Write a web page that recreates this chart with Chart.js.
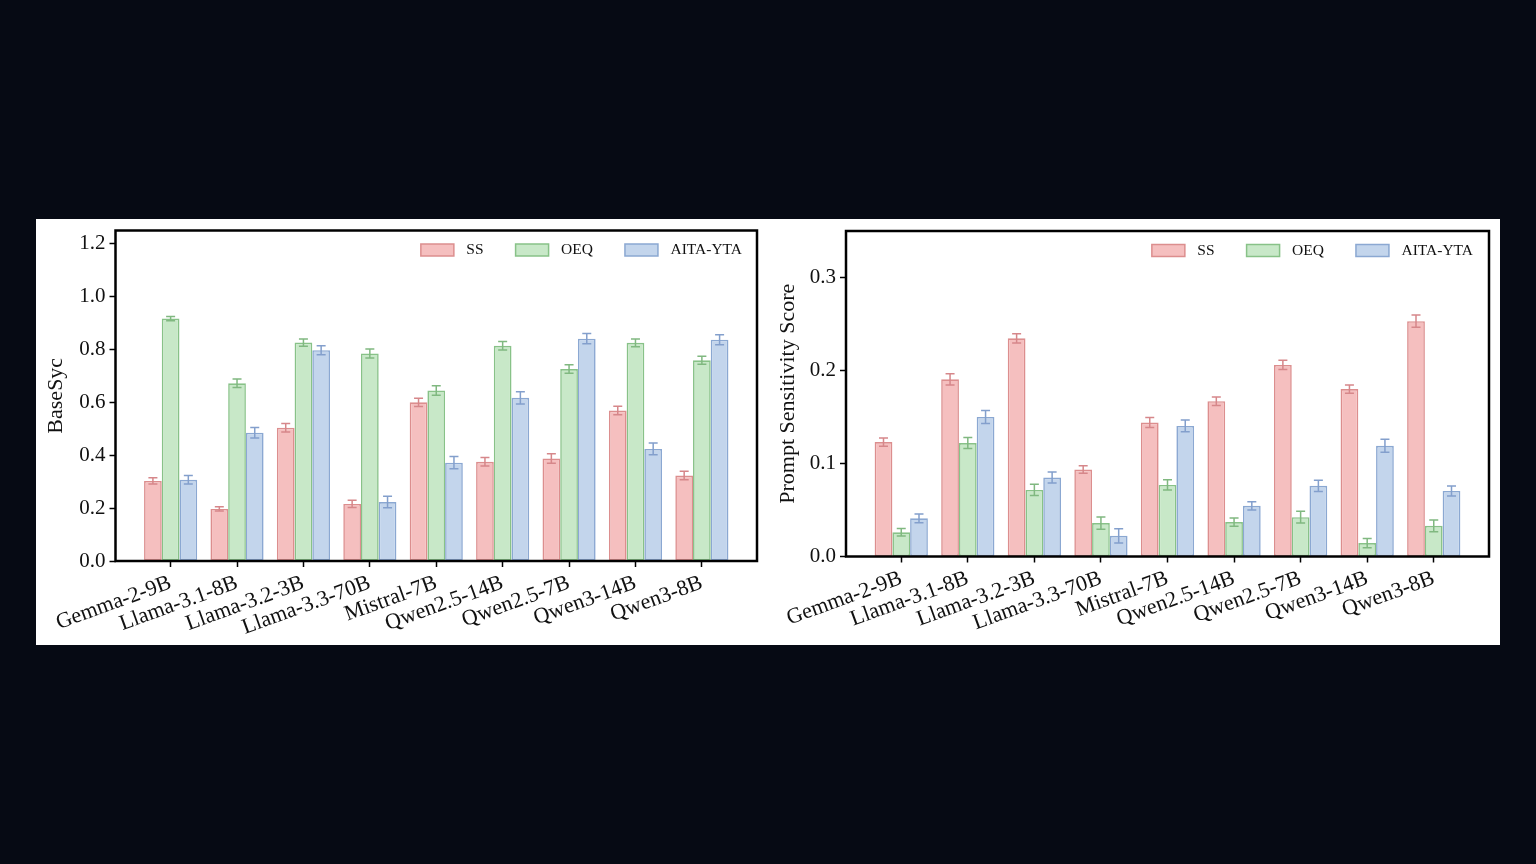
<!DOCTYPE html>
<html>
<head>
<meta charset="utf-8">
<script src="https://cdn.jsdelivr.net/npm/chart.js@4.4.1/dist/chart.umd.min.js"></script>
<style>
  html, body { margin: 0; padding: 0; background: #060a14; width: 1536px; height: 864px; overflow: hidden; }
  #panel { position: absolute; left: 36px; top: 219px; width: 1464px; height: 426px; background: #fff; }
  .cell { position: absolute; top: 0; width: 732px; height: 426px; }
</style>
</head>
<body>
<div id="panel">
  <div class="cell" style="left:0"><canvas id="baseChart"></canvas></div>
  <div class="cell" style="left:732px"><canvas id="promptChart"></canvas></div>
</div>
<script>
// models on the x axis
const models = ["Gemma-2-9B", "Llama-3.1-8B", "Llama-3.2-3B", "Llama-3.3-70B", "Mistral-7B",
                "Qwen2.5-14B", "Qwen2.5-7B", "Qwen3-14B", "Qwen3-8B"];
const seriesNames = ["SS", "OEQ", "AITA-YTA"];

// left panel: BaseSyc
const baseSS       = [0.303, 0.197, 0.504, 0.216, 0.600, 0.375, 0.388, 0.569, 0.323];
const baseSSErr    = [0.012, 0.008, 0.016, 0.014, 0.016, 0.016, 0.018, 0.016, 0.016];
const baseOEQ      = [0.917, 0.672, 0.826, 0.785, 0.645, 0.814, 0.726, 0.825, 0.759];
const baseOEQErr   = [0.008, 0.016, 0.014, 0.017, 0.018, 0.016, 0.016, 0.015, 0.015];
const baseAITA     = [0.307, 0.485, 0.797, 0.223, 0.372, 0.617, 0.841, 0.424, 0.837];
const baseAITAErr  = [0.016, 0.020, 0.017, 0.022, 0.023, 0.023, 0.019, 0.022, 0.019];

// right panel: Prompt Sensitivity Score
const promptSS      = [0.123, 0.1905, 0.2346, 0.0935, 0.144, 0.167, 0.206, 0.180, 0.253];
const promptSSErr   = [0.0045, 0.006, 0.005, 0.004, 0.0054, 0.0045, 0.005, 0.0045, 0.0066];
const promptOEQ     = [0.026, 0.122, 0.0716, 0.0359, 0.077, 0.037, 0.0423, 0.0144, 0.033];
const promptOEQErr  = [0.004, 0.006, 0.006, 0.0065, 0.0054, 0.0045, 0.0063, 0.005, 0.0063];
const promptAITA    = [0.041, 0.150, 0.0849, 0.0222, 0.1404, 0.0545, 0.076, 0.119, 0.0705];
const promptAITAErr = [0.0047, 0.007, 0.006, 0.0077, 0.0063, 0.0045, 0.006, 0.007, 0.0054];

const fillColors = ["#f5bfbf", "#c8e8c8", "#c3d5ec"];
const edgeColors = ["#dc8e8e", "#88c288", "#8ba8d2"];
const errColors  = ["#d6878a", "#80b880", "#839fcc"];
const serif = "'Liberation Serif', 'Times New Roman', serif";

const errorBars = {
    id: "errorBars",
    afterDatasetsDraw(chart) {
        const ctx = chart.ctx;
        const yScale = chart.scales.y;
        ctx.save();
        ctx.lineWidth = 1.5;
        chart.data.datasets.forEach((ds, d) => {
            const meta = chart.getDatasetMeta(d);
            ctx.strokeStyle = errColors[d];
            meta.data.forEach((bar, i) => {
                const v = ds.data[i].y;
                const e = ds.errors[i];
                const yTop = yScale.getPixelForValue(v + e);
                const yBot = yScale.getPixelForValue(v - e);
                const cap = 4.5;
                ctx.beginPath();
                ctx.moveTo(bar.x, yTop); ctx.lineTo(bar.x, yBot);
                ctx.moveTo(bar.x - cap, yTop); ctx.lineTo(bar.x + cap, yTop);
                ctx.moveTo(bar.x - cap, yBot); ctx.lineTo(bar.x + cap, yBot);
                ctx.stroke();
            });
        });
        ctx.restore();
    }
};

const frame = {
    id: "frame",
    afterDraw(chart) {
        const { ctx, chartArea: a } = chart;
        ctx.save();
        ctx.strokeStyle = "#000";
        ctx.lineWidth = 2.5;
        ctx.strokeRect(a.left, a.top, a.right - a.left, a.bottom - a.top);
        ctx.restore();
    }
};

// legend inside the plot, top right, like the original
const insideLegend = {
    id: "insideLegend",
    afterDraw(chart, args, opts) {
        const { ctx, chartArea } = chart;
        ctx.save();
        ctx.font = "15.5px " + serif;
        ctx.textBaseline = "middle";
        let x = chartArea.right - opts.right;
        const y = chartArea.top + opts.top;
        for (let i = chart.data.datasets.length - 1; i >= 0; i--) {
            const ds = chart.data.datasets[i];
            const w = ctx.measureText(ds.label).width;
            x -= w;
            ctx.fillStyle = "#111";
            ctx.fillText(ds.label, x, y);
            x -= 12.5 + 33;
            ctx.fillStyle = ds.backgroundColor;
            ctx.fillRect(x, y - 6, 33, 12);
            ctx.strokeStyle = ds.borderColor;
            ctx.lineWidth = 1.5;
            ctx.strokeRect(x, y - 6, 33, 12);
            x -= 32;
        }
        ctx.restore();
    }
};

function buildChart(canvasId, values, errors, yMax, yStep, yTitle, pad) {
    const datasets = seriesNames.map((name, s) => ({
        label: name,
        data: models.map((m, i) => ({ x: i, y: values[s][i] })),
        errors: errors[s],
        backgroundColor: fillColors[s],
        borderColor: edgeColors[s],
        borderWidth: 1.6,
        borderSkipped: false,
        categoryPercentage: 0.8,
        barPercentage: 1.0
    }));

    return new Chart(document.getElementById(canvasId), {
        type: "bar",
        data: { datasets },
        options: {
            responsive: true,
            maintainAspectRatio: false,
            animation: false,
            layout: { padding: { left: 0, right: pad.right, top: pad.top, bottom: 0 } },
            plugins: {
                legend: { display: false },
                tooltip: { enabled: false },
                insideLegend: { right: pad.legendRight, top: 19.5 }
            },
            scales: {
                x: {
                    type: "linear",
                    min: -0.83,
                    max: models.length - 1 + 0.83,
                    offset: false,
                    grid: { offset: false, drawOnChartArea: false, tickLength: 6, tickWidth: 1.5, tickColor: "#000" },
                    border: { display: false },
                    afterBuildTicks: s => { s.ticks = models.map((m, i) => ({ value: i })); },
                    afterFit: s => { s.height = pad.bottom; },
                    ticks: {
                        autoSkip: false,
                        stepSize: 1,
                        minRotation: 20,
                        maxRotation: 20,
                        padding: 3,
                        color: "#111",
                        font: { family: serif, size: 22 },
                        callback: v => models[v]
                    }
                },
                y: {
                    min: 0,
                    max: yMax,
                    grid: { drawOnChartArea: false, tickLength: 6, tickWidth: 1.5, tickColor: "#000" },
                    border: { display: false },
                    afterFit: s => { s.width = pad.left; s.paddingTop = 0; s.paddingBottom = 0; },
                    ticks: {
                        stepSize: yStep,
                        includeBounds: false,
                        padding: 4,
                        color: "#111",
                        font: { family: serif, size: 21 },
                        callback: v => v.toFixed(1)
                    },
                    title: {
                        display: true,
                        text: yTitle,
                        color: "#111",
                        font: { family: serif, size: 22, lineHeight: 1.2 },
                        padding: { top: 7, bottom: 0 }
                    }
                }
            }
        },
        plugins: [errorBars, frame, insideLegend]
    });
}

buildChart("baseChart",
    [baseSS, baseOEQ, baseAITA], [baseSSErr, baseOEQErr, baseAITAErr],
    1.25, 0.2, "BaseSyc",
    { left: 79.5, right: 11, top: 11.5, bottom: 84, legendRight: 15 });

buildChart("promptChart",
    [promptSS, promptOEQ, promptAITA], [promptSSErr, promptOEQErr, promptAITAErr],
    0.35, 0.1, "Prompt Sensitivity Score",
    { left: 78, right: 11, top: 12, bottom: 88.5, legendRight: 16 });
</script>
</body>
</html>
